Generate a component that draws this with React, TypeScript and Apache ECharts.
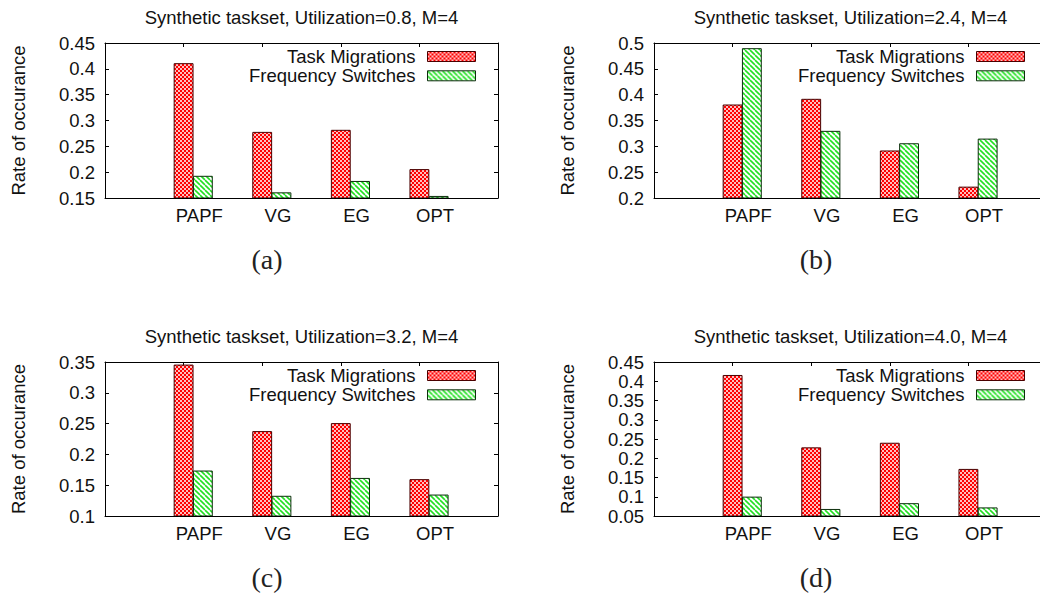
import React, { useEffect, useRef } from 'react';
import * as echarts from 'echarts';

const categories = ['PAPF', 'VG', 'EG', 'OPT'];
const seriesNames = ['Task Migrations', 'Frequency Switches'];
const panelTitles = [
  'Synthetic taskset, Utilization=0.8, M=4',
  'Synthetic taskset, Utilization=2.4, M=4',
  'Synthetic taskset, Utilization=3.2, M=4',
  'Synthetic taskset, Utilization=4.0, M=4',
];
const captions = ['(a)', '(b)', '(c)', '(d)'];
const yAxisName = 'Rate of occurance';

const migrationsA = [0.41, 0.277, 0.281, 0.205];
const switchesA = [0.192, 0.16, 0.182, 0.153];
const migrationsB = [0.38, 0.391, 0.291, 0.221];
const switchesB = [0.489, 0.329, 0.305, 0.314];
const migrationsC = [0.345, 0.237, 0.25, 0.159];
const switchesC = [0.173, 0.132, 0.161, 0.134];
const migrationsD = [0.415, 0.227, 0.239, 0.171];
const switchesD = [0.099, 0.067, 0.082, 0.071];

const yMins = [0.15, 0.2, 0.1, 0.05];
const yMaxs = [0.45, 0.5, 0.35, 0.45];
const yStep = 0.05;

const FONT = 'Liberation Sans, Arial, Helvetica, sans-serif';
const SERIF = 'Liberation Serif, Times New Roman, serif';
const FS = 18.5;

function redPattern() {
  const c = document.createElement('canvas');
  c.width = 4;
  c.height = 4;
  const ctx = c.getContext('2d')!;
  ctx.fillStyle = '#ff0000';
  ctx.fillRect(0, 0, 4, 4);
  ctx.fillStyle = '#ffffff';
  ctx.beginPath();
  ctx.arc(1, 1, 1.0, 0, Math.PI * 2);
  ctx.fill();
  ctx.beginPath();
  ctx.arc(3, 3, 1.0, 0, Math.PI * 2);
  ctx.fill();
  return { image: c, repeat: 'repeat', imageWidth: 4, imageHeight: 4 };
}

function greenPattern() {
  const s = 5;
  const c = document.createElement('canvas');
  c.width = s;
  c.height = s;
  const ctx = c.getContext('2d')!;
  ctx.fillStyle = '#ffffff';
  ctx.fillRect(0, 0, s, s);
  ctx.strokeStyle = '#22e022';
  ctx.lineWidth = 1.6;
  for (const x0 of [-s, 0, s]) {
    ctx.beginPath();
    ctx.moveTo(x0, 0);
    ctx.lineTo(x0 + s, s);
    ctx.stroke();
  }
  return { image: c, repeat: 'repeat', imageWidth: s, imageHeight: s };
}

const CHART_W = 1070;

export default function App() {
  const ref = useRef<HTMLDivElement>(null);
  useEffect(() => {
    document.body.style.margin = '0';
    const chart = echarts.init(ref.current!, null, { renderer: 'svg' });
    const panels = [
      [migrationsA, switchesA],
      [migrationsB, switchesB],
      [migrationsC, switchesC],
      [migrationsD, switchesD],
    ];
    const grids = [
      { left: 105, top: 43, width: 393, height: 155 },
      { left: 654, top: 43, width: 393, height: 155 },
      { left: 105, top: 362, width: 393, height: 154 },
      { left: 654, top: 362, width: 393, height: 154 },
    ];
    const patterns = [redPattern(), greenPattern()];
    const borders = ['#4a0000', '#0d2d0d'];
    const tickVals = categories.map((_, i) => i + 1);
    const labelVals = categories.map((_, i) => i + 1.2);

    const xAxis: any[] = [];
    const yAxis: any[] = [];
    const series: any[] = [];
    const title: any[] = [];
    const legend: any[] = [];
    const graphic: any[] = [];

    grids.forEach((g, gi) => {
      const line = { show: true, onZero: false, lineStyle: { color: '#000', width: 1 } };
      xAxis.push({
        gridIndex: gi, type: 'value', min: 0, max: categories.length + 1, position: 'bottom',
        axisLine: line,
        axisTick: { show: true, inside: true, length: 4, customValues: tickVals, lineStyle: { color: '#000' } },
        axisLabel: {
          show: true, customValues: labelVals, margin: 8, fontSize: FS, color: '#111', fontFamily: FONT,
          formatter: (v: number) => categories[Math.round(v) - 1] ?? '',
        },
        splitLine: { show: false },
      });
      xAxis.push({
        gridIndex: gi, type: 'value', min: 0, max: categories.length + 1, position: 'top',
        axisLine: line,
        axisTick: { show: true, inside: true, length: 4, customValues: tickVals, lineStyle: { color: '#000' } },
        axisLabel: { show: false },
        splitLine: { show: false },
      });
      yAxis.push({
        gridIndex: gi, type: 'value', min: yMins[gi], max: yMaxs[gi], interval: yStep, position: 'left',
        axisLine: line,
        axisTick: { show: true, inside: true, length: 4, lineStyle: { color: '#000' } },
        axisLabel: { margin: 10, fontSize: FS, color: '#111', fontFamily: FONT },
        splitLine: { show: false },
        name: yAxisName, nameLocation: 'middle', nameGap: 77,
        nameTextStyle: { fontSize: FS, color: '#111', fontFamily: FONT },
      });
      yAxis.push({
        gridIndex: gi, type: 'value', min: yMins[gi], max: yMaxs[gi], interval: yStep, position: 'right',
        axisLine: line,
        axisTick: { show: true, inside: true, length: 4, lineStyle: { color: '#000' } },
        axisLabel: { show: false },
        splitLine: { show: false },
      });
      const yMin = yMins[gi];
      panels[gi].forEach((vals, si) => {
        const off = si === 0 ? 0 : 0.245;
        series.push({
          type: 'custom', name: seriesNames[si], xAxisIndex: gi * 2, yAxisIndex: gi * 2,
          data: vals.map((v, i) => [i + 1, v]),
          encode: { x: 0, y: 1 },
          itemStyle: { color: patterns[si], borderColor: borders[si], borderWidth: 1 },
          clip: true,
          renderItem: (_p: any, api: any) => {
            const x = api.value(0);
            const y = api.value(1);
            const a = api.coord([x + off - 0.12, y]);
            const b = api.coord([x + off + 0.12, yMin]);
            return {
              type: 'rect',
              shape: { x: a[0], y: a[1], width: b[0] - a[0], height: b[1] - a[1] },
              style: { fill: patterns[si], stroke: borders[si], lineWidth: 1 },
            };
          },
        });
      });
      title.push({
        text: panelTitles[gi], left: g.left + g.width / 2, top: g.top - 35, textAlign: 'center', padding: 0,
        textStyle: { fontSize: FS, fontWeight: 'normal', color: '#111', fontFamily: FONT },
      });
      legend.push({
        orient: 'vertical', align: 'right', icon: 'rect', padding: 0,
        right: CHART_W - (g.left + g.width - 22), top: g.top + 4,
        itemWidth: 48, itemHeight: 10, itemGap: 0.3,
        data: seriesNames,
        textStyle: { fontSize: FS, color: '#111', fontFamily: FONT, padding: [0, 7, 0, 0] },
        itemStyle: { borderWidth: 1 },
      });
      graphic.push({
        type: 'text', x: g.left + 162, y: g.top + g.height + 61,
        style: { text: captions[gi], font: `28px ${SERIF}`, fill: '#222', textAlign: 'center', textVerticalAlign: 'middle' },
      });
    });

    chart.setOption({
      animation: false,
      backgroundColor: '#fff',
      title, legend, graphic,
      grid: grids.map((g) => ({ ...g, containLabel: false })),
      xAxis, yAxis, series,
    });
    return () => chart.dispose();
  }, []);
  return (
    <div style={{ width: 1040, height: 594, overflow: 'hidden', position: 'relative' }}>
      <div ref={ref} style={{ width: CHART_W, height: 594 }} />
    </div>
  );
}
